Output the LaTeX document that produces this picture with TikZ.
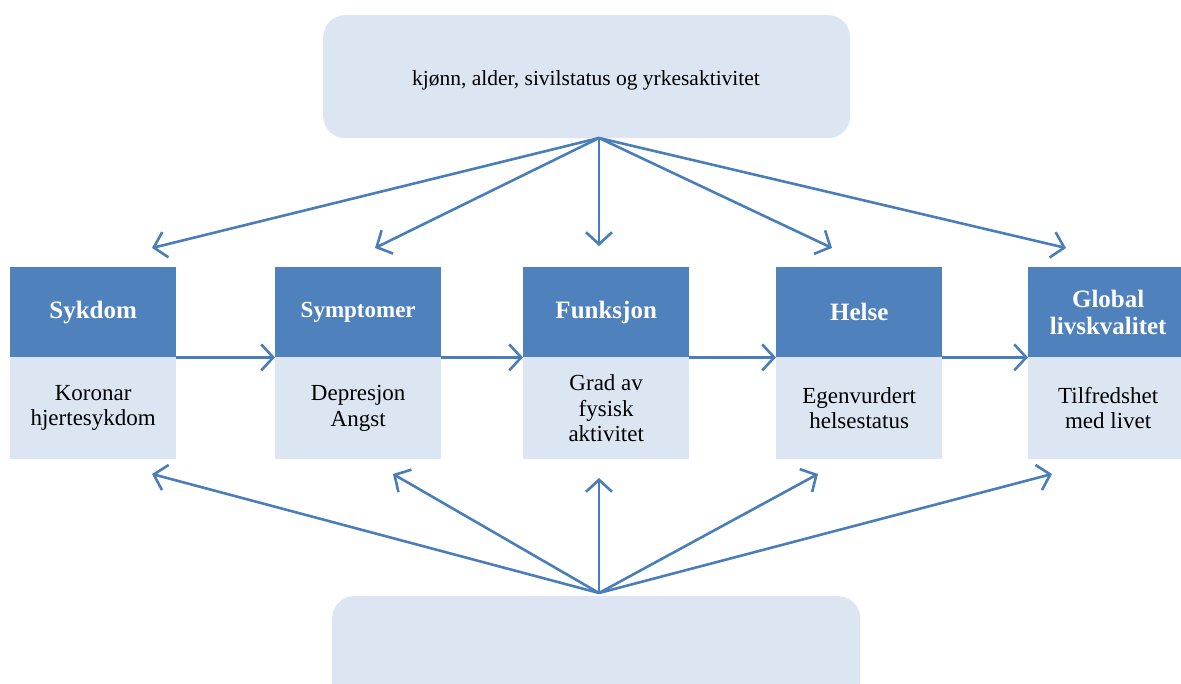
\documentclass[tikz,border=0pt]{standalone}
\usepackage{fontspec}
\setmainfont{Liberation Serif}
\usetikzlibrary{arrows.meta}
\definecolor{dkblue}{HTML}{4F81BD}
\definecolor{ltblue}{HTML}{DCE6F2}
\definecolor{arrblue}{HTML}{4A7EBB}
\tikzset{
  hdr/.style={fill=dkblue, draw=none, minimum width=166pt, minimum height=90pt, anchor=north west, inner sep=0pt, text=white, align=center, font=\fontsize{25}{27}\selectfont\bfseries},
  bdy/.style={fill=ltblue, draw=none, minimum width=166pt, minimum height=102pt, anchor=north west, inner sep=0pt, align=center, font=\fontsize{23}{25.5}\selectfont},
  rbox/.style={fill=ltblue, draw=none, rounded corners=22pt, anchor=north west, inner sep=0pt},
  arr/.style={draw=arrblue, line width=2.6pt, -{Straight Barb[length=12pt,width=26pt,line width=2.6pt]}}
}
\begin{document}
\begin{tikzpicture}[x=1pt,y=1pt]
\clip (0,0) rectangle (1181,-684);
\fill[white] (0,0) rectangle (1181,-684);
% top and bottom boxes
\node[rbox, minimum width=527pt, minimum height=123pt] (top) at (323,-15) {};
\node[font=\fontsize{21.5}{24}\selectfont] (toptext) at (586,-80) {kjønn, alder, sivilstatus og yrkesaktivitet};
\node[rbox, minimum width=528pt, minimum height=120pt] (bot) at (332,-596) {};
% columns
\node[hdr] (h1) at (10,-267) {Sykdom};
\node[bdy] (b1) at (10,-357) {Koronar\\hjertesykdom};
\node[hdr, font=\fontsize{23}{25}\selectfont\bfseries] (h2) at (275,-267) {Symptomer};
\node[bdy] (b2) at (275,-357) {Depresjon\\Angst};
\node[hdr] (h3) at (523,-267) {Funksjon};
\node[bdy] (b3) at (523,-357) {Grad av\\fysisk\\aktivitet};
\node[hdr] (h4) at (776,-267) {Helse};
\node[bdy] (b4) at (776,-357) {Egenvurdert\\helsestatus};
\node[hdr, minimum width=160pt] (h5) at (1028,-267) {Global\\livskvalitet};
\node[bdy, minimum width=160pt] (b5) at (1028,-357) {Tilfredshet\\med livet};
% horizontal arrows
\draw[arr] (h1.south east) -- (h2.south west);
\draw[arr] (h2.south east) -- (h3.south west);
\draw[arr] (h3.south east) -- (h4.south west);
\draw[arr] (h4.south east) -- (h5.south west);
% top fan
\coordinate (ts) at (599,-138);
\coordinate (t1) at (152,-248);
\coordinate (t2) at (375,-248);
\coordinate (t3) at (599,-246);
\coordinate (t4) at (832,-248);
\coordinate (t5) at (1066,-248);
\foreach \e in {t1,t2,t3,t4,t5} \draw[arr] (ts) -- (\e);
% bottom fan
\coordinate (bs) at (599,-593);
\coordinate (u1) at (152,-474);
\coordinate (u2) at (393,-474);
\coordinate (u3) at (599,-478);
\coordinate (u4) at (818,-474);
\coordinate (u5) at (1052,-474);
\foreach \e in {u1,u2,u3,u4,u5} \draw[arr] (bs) -- (\e);
\end{tikzpicture}
\end{document}
